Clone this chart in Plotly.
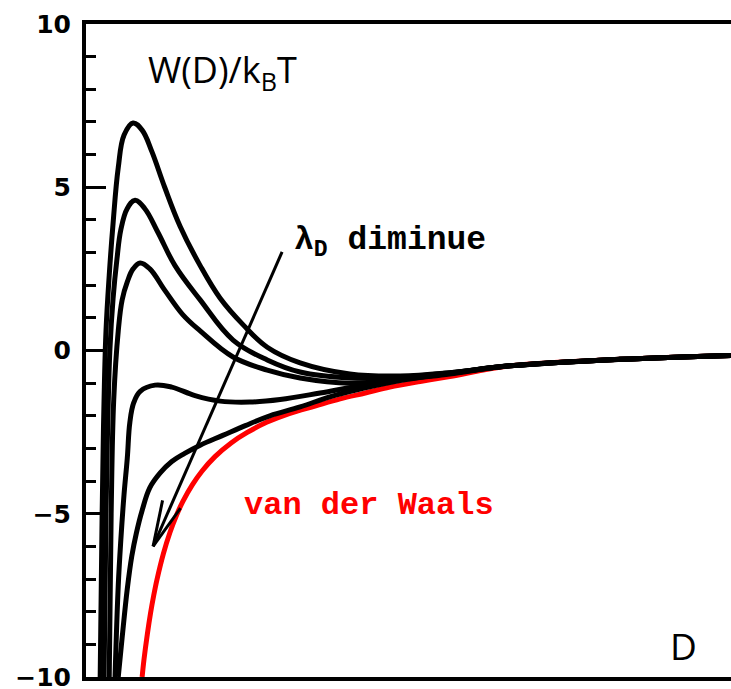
import math
import plotly.graph_objects as go

# Interaction energy W(D)/kBT versus separation D (arbitrary distance units)
# Five DLVO curves for decreasing Debye length, plus the pure van der Waals curve.
tail_d = [6.57, 8.28, 10.0]
tail_w = [-0.47, -0.27, -0.15]

curve_a_d = [0.22, 0.25, 0.28, 0.31, 0.36, 0.42, 0.50, 0.59, 0.73, 0.87, 1.02, 1.22, 1.46, 1.77, 2.08, 2.43, 2.81, 3.32, 4.09, 4.87, 5.64]
curve_a_w = [-10.0, -5.0, -1.5, 0.6, 2.3, 3.9, 5.6, 6.6, 6.97, 6.75, 6.1, 5.0, 3.8, 2.6, 1.6, 0.8, 0.1, -0.38, -0.72, -0.78, -0.68]

curve_b_d = [0.28, 0.31, 0.34, 0.37, 0.42, 0.48, 0.54, 0.64, 0.76, 0.91, 1.12, 1.38, 1.77, 2.28, 2.81, 3.32, 4.09, 4.87, 5.64]
curve_b_w = [-10.0, -5.0, -2.0, 0.0, 1.6, 2.8, 3.7, 4.35, 4.6, 4.35, 3.6, 2.6, 1.55, 0.32, -0.29, -0.66, -0.84, -0.82, -0.68]

curve_c_d = [0.36, 0.39, 0.43, 0.50, 0.56, 0.64, 0.73, 0.84, 0.99, 1.22, 1.50, 1.77, 2.28, 2.81, 3.32, 4.09, 4.87, 5.64]
curve_c_w = [-10.0, -5.0, -1.5, 0.6, 1.55, 2.1, 2.5, 2.68, 2.5, 1.85, 1.1, 0.6, -0.2, -0.6, -0.84, -1.0, -0.88, -0.7]

curve_d_d = [0.45, 0.50, 0.54, 0.59, 0.64, 0.68, 0.74, 0.84, 1.07, 1.33, 1.69, 2.08, 2.54, 3.01, 3.63, 4.25, 4.87, 5.64]
curve_d_w = [-10.0, -7.2, -5.8, -4.4, -3.3, -2.2, -1.6, -1.25, -1.06, -1.12, -1.38, -1.55, -1.58, -1.5, -1.3, -1.08, -0.9, -0.7]

curve_e_d = [0.50, 0.56, 0.64, 0.71, 0.78, 0.87, 0.99, 1.15, 1.33, 1.53, 1.77, 2.12, 2.47, 2.85, 3.32, 3.78, 4.25, 4.87, 5.64]
curve_e_w = [-10.0, -8.8, -7.3, -6.3, -5.6, -4.9, -4.2, -3.75, -3.4, -3.15, -2.9, -2.6, -2.3, -2.0, -1.73, -1.42, -1.18, -0.92, -0.72]

vdw_d = [0.87, 0.90, 0.95, 1.00, 1.05, 1.10, 1.20, 1.30, 1.40, 1.50, 1.65, 1.80, 2.00, 2.25, 2.50, 2.80, 3.15, 3.55, 3.94, 4.33, 4.71, 5.18, 5.64]
vdw_w = [-10.0, -9.45, -8.70, -8.05, -7.50, -7.02, -6.22, -5.58, -5.06, -4.63, -4.11, -3.69, -3.25, -2.83, -2.51, -2.20, -1.93, -1.70, -1.48, -1.30, -1.12, -0.95, -0.80]

# Arrow showing the trend as the Debye length decreases
arrow_tail = (3.04, 3.02)
arrow_tip = (1.04, -6.0)

X_RANGE = [0, 10]
Y_RANGE = [-10, 10]
W, H = 731, 689
M = dict(l=86, r=0, t=24, b=12)

fig = go.Figure()

fig.add_trace(go.Scatter(
    x=vdw_d + tail_d, y=vdw_w + tail_w, mode="lines",
    line=dict(color="#ff0000", width=5, shape="spline", smoothing=1.0),
    hoverinfo="skip", showlegend=False,
))

for xs, ys in [(curve_a_d, curve_a_w), (curve_b_d, curve_b_w), (curve_c_d, curve_c_w),
               (curve_d_d, curve_d_w), (curve_e_d, curve_e_w)]:
    fig.add_trace(go.Scatter(
        x=xs + tail_d, y=ys + tail_w, mode="lines",
        line=dict(color="black", width=5, shape="spline", smoothing=1.1),
        hoverinfo="skip", showlegend=False,
    ))

# Open V arrowhead: two barbs built in screen space, mapped back to data units
px_x = (W - M["l"] - M["r"]) / (X_RANGE[1] - X_RANGE[0])
px_y = (H - M["t"] - M["b"]) / (Y_RANGE[1] - Y_RANGE[0])
dx = (arrow_tail[0] - arrow_tip[0]) * px_x
dy = (arrow_tail[1] - arrow_tip[1]) * px_y
ang = math.atan2(dy, dx)
barb_len, barb_ang = 47, math.radians(12)
ax_x, ax_y = [arrow_tail[0], arrow_tip[0]], [arrow_tail[1], arrow_tip[1]]
for s in (-1, 1):
    a = ang + s * barb_ang
    ax_x += [None, arrow_tip[0], arrow_tip[0] + barb_len * math.cos(a) / px_x]
    ax_y += [None, arrow_tip[1], arrow_tip[1] + barb_len * math.sin(a) / px_y]
fig.add_trace(go.Scatter(x=ax_x, y=ax_y, mode="lines",
                         line=dict(color="black", width=3),
                         hoverinfo="skip", showlegend=False))

fig.add_annotation(x=0.93, y=8.55, xref="x", yref="y", xanchor="left", yanchor="middle",
                   text="W(D)/k<sub>B</sub>T", showarrow=False,
                   font=dict(family="Open Sans", size=36, color="black"))
fig.add_annotation(x=9.27, y=-9.05, xref="x", yref="y", xanchor="center", yanchor="middle",
                   text="D", showarrow=False,
                   font=dict(family="Open Sans", size=37, color="black"))
fig.add_annotation(x=3.19, y=3.3, xref="x", yref="y", xanchor="left", yanchor="middle",
                   text="λ<sub>D</sub> diminue", showarrow=False,
                   font=dict(family="Liberation Mono", size=33, color="black", weight="bold"))
fig.add_annotation(x=2.42, y=-4.75, xref="x", yref="y", xanchor="left", yanchor="middle",
                   text="van der Waals", showarrow=False,
                   font=dict(family="Liberation Mono", size=32, color="#ff0000", weight="bold"))

fig.update_xaxes(range=X_RANGE, showline=True, mirror=True, linewidth=4, linecolor="black",
                 showticklabels=False, ticks="", showgrid=False, zeroline=False,
                 automargin=False)
fig.update_yaxes(range=Y_RANGE, tickvals=[-10, -5, 0, 5, 10], ticks="inside", ticklen=20,
                 tickwidth=3, tickcolor="black", showline=True, linewidth=4, linecolor="black",
                 showgrid=False, zeroline=False, ticklabelstandoff=6,
                 ticklabeloverflow="allow", automargin=False,
                 minor=dict(dtick=1, tick0=0, ticks="inside", ticklen=10, tickwidth=3,
                            tickcolor="black", showgrid=False),
                 tickfont=dict(family="DejaVu Sans", size=25, color="black", weight="bold"))

fig.update_layout(width=W, height=H, margin=M, plot_bgcolor="white", paper_bgcolor="white")
fig.write_html("out.html")
